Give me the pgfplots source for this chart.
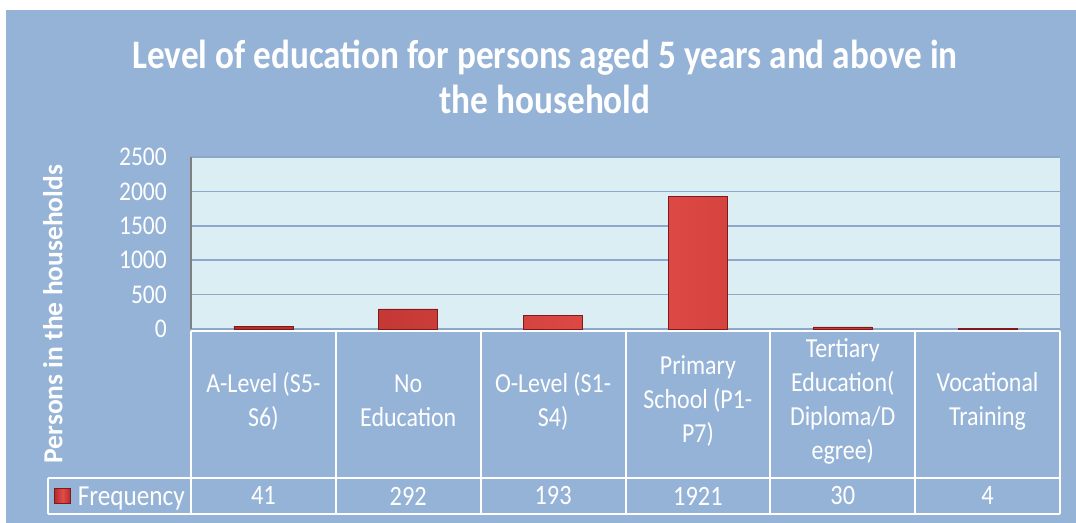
\documentclass[border=0pt]{standalone}
\usepackage{pgfplots}
\usepackage{pgfplotstable}
\pgfplotsset{compat=1.18}
\usepackage{fontspec}
\setmainfont{Carlito}[FakeStretch=0.87]
\newfontfamily\ylabfont{Carlito}
\definecolor{bgblue}{HTML}{95B3D7}
\definecolor{plotbg}{HTML}{DBEEF4}
\definecolor{gridc}{HTML}{8EA8CC}
\definecolor{axgray}{HTML}{808080}
\definecolor{barlight}{HTML}{E24C48}
\definecolor{bardark}{HTML}{B22C29}
\definecolor{baredge}{HTML}{7E1B1A}
\pgfplotstableread{
x freq
0 41
1 292
2 193
3 1921
4 30
5 4
}\datatable
\begin{document}
\begin{tikzpicture}
\useasboundingbox (0,0) rectangle (1076bp,-523bp);
\fill[white] (0,0) rectangle (1076bp,-523bp);
\fill[bgblue] (6bp,-10bp) rectangle (1076bp,-523bp);
\node[text=white, align=center, font=\fontsize{40.5bp}{45bp}\selectfont\bfseries] at (545bp,-77bp)
  {Level of education for persons aged 5 years and above in\\the household};
\begin{axis}[
  at={(191bp,-329bp)}, anchor=south west,
  scale only axis, width=869bp, height=172bp,
  xmin=-0.5, xmax=5.5, ymin=0, ymax=2500,
  clip=false,
  axis background/.style={fill=plotbg},
  axis line style={draw=none},
  major tick length=0pt,
  ytick={0,500,1000,1500,2000,2500},
  ymajorgrids, grid style={gridc, line width=1.5bp},
  /pgf/number format/assume math mode=true,
  /pgf/number format/1000 sep={},
  yticklabel style={text=white, inner sep=0pt, xshift=-24bp, font=\fontsize{27bp}{27bp}\selectfont},
  xtick={0,1,2,3,4,5},
  xticklabels={{A-Level (S5-\\S6)},{No\\Education},{O-Level (S1-\\S4)},{Primary\\School (P1-\\P7)},{Tertiary\\Education(\\Diploma/D\\egree)},{Vocational\\Training}},
  xticklabel style={anchor=center, yshift=-72bp, align=center, text=white, font=\fontsize{27.5bp}{34bp}\selectfont},
  every axis y label/.style={at={(rel axis cs:-0.159,0.087)}, anchor=center, rotate=90, text=white, font=\fontsize{27.5bp}{28bp}\ylabfont\bfseries},
  ylabel={Persons in the households},
  legend style={at={(rel axis cs:-0.0811,-0.975)}, anchor=center, draw=none, fill=none, text=white, inner sep=0pt, font=\fontsize{29bp}{30bp}\selectfont,
    /tikz/every odd column/.append style={column sep=5bp}},
  legend image code/.code={\draw[#1,/tikz/.cd,line width=0.6bp] (0bp,-7bp) rectangle (16bp,8bp);},
]
\addplot[ybar, bar width=59bp, left color=bardark, right color=bardark, middle color=barlight, draw=baredge, line width=0.8bp]
  table[x=x, y=freq] \datatable;
\addlegendentry{Frequency}
\addplot[draw=none, mark=none, forget plot, nodes near coords, point meta=explicit, nodes near coords align=center,
  every node near coord/.append style={text=white, anchor=center, font=\fontsize{28bp}{28bp}\selectfont}]
  table[x=x, y expr=-2427, meta=freq] \datatable;
\draw[axgray, line width=2bp] (axis cs:-0.5,0) -- (axis cs:-0.5,2500);
\end{axis}
% data table grid
\begin{scope}[white, line width=2bp]
\draw (191bp,-331bp) -- (1060bp,-331bp);
\draw (48bp,-478bp) -- (1060bp,-478bp);
\draw (48bp,-514bp) -- (1060bp,-514bp);
\draw (48bp,-478bp) -- (48bp,-514bp);
\foreach \xx in {191,335.8,480.7,625.5,770.3,915.2,1060} {
  \draw (\xx bp,-331bp) -- (\xx bp,-514bp);
}
\end{scope}
\end{tikzpicture}
\end{document}
